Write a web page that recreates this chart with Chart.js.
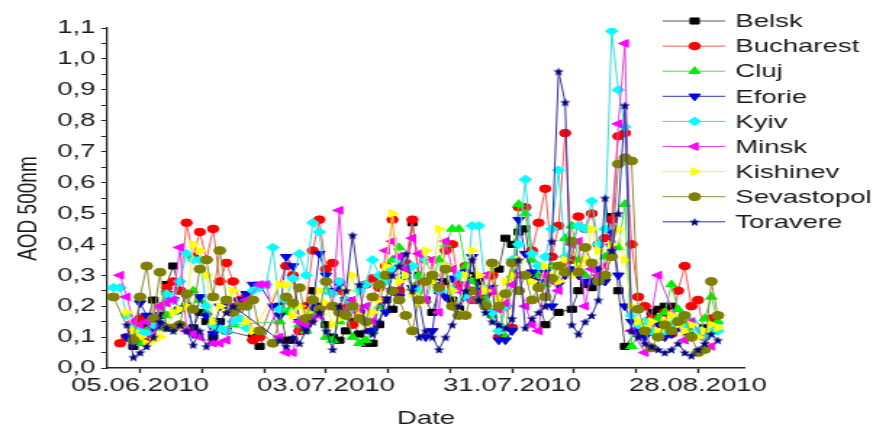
<!DOCTYPE html>
<html>
<head>
<meta charset="utf-8">
<script src="https://cdn.jsdelivr.net/npm/chart.js@4.4.0/dist/chart.umd.min.js"></script>
<style>
html, body { margin: 0; padding: 0; background: #fff; overflow: hidden; }
/* the source figure is stretched sideways, so the chart is drawn narrow and widened */
#wrap { width: 602px; height: 430px; transform: scaleX(1.4502); transform-origin: 0 0; }
</style>
</head>
<body>
<div id="wrap"><canvas id="aod"></canvas></div>
<script>
// days after 05.06.2010
const days = [-4, -3, -2, -1, 0, 1, 2, 3, 4, 5,
  6, 7, 8, 9, 10, 11, 12, 13, 14, 15,
  16, 17, 18, 19, 20, 21, 22, 23, 24, 25,
  26, 27, 28, 29, 30, 31, 32, 33, 34, 35,
  36, 37, 38, 39, 40, 41, 42, 43, 44, 45,
  46, 47, 48, 49, 50, 51, 52, 53, 54, 55,
  56, 57, 58, 59, 60, 61, 62, 63, 64, 65,
  66, 67, 68, 69, 70, 71, 72, 73, 74, 75,
  76, 77, 78, 79, 80, 81, 82, 83, 84, 85,
  86, 87, 88, 89];

const xTickDays = [0, 9.33, 18.67, 28, 37.33, 46.67, 56, 65.33, 74.67, 84];
const xTickLabels = ['05.06.2010', '', '', '03.07.2010', '', '', '31.07.2010', '', '', '28.08.2010'];

const belsk = [null, null, null, 0.07, 0.10, 0.14, 0.22, 0.17, 0.27, 0.33,
  0.25, 0.20, 0.13, 0.18, 0.15, 0.10, 0.15, 0.12, null, null,
  null, 0.10, 0.07, null, null, 0.20, 0.09, 0.09, 0.12, 0.16,
  0.25, 0.20, 0.14, 0.10, 0.09, 0.12, 0.15, 0.11, 0.08, 0.08,
  0.14, 0.22, 0.19, 0.25, 0.30, 0.47, 0.30, 0.22, 0.18, 0.25,
  0.28, 0.22, 0.19, 0.23, 0.30, 0.28, 0.20, 0.25, 0.32, 0.42,
  0.40, 0.44, 0.45, 0.30, null, 0.14, null, 0.18, null, 0.19,
  0.25, 0.27, 0.26, 0.28, 0.30, 0.49, 0.25, 0.07, null, null,
  null, 0.18, 0.19, 0.20, 0.20, null, null, null, null, 0.13,
  null, null, null, null];

const bucharest = [null, 0.08, 0.10, 0.12, 0.16, 0.10, 0.15, 0.20, 0.26, 0.28,
  0.25, 0.47, 0.36, 0.44, 0.35, 0.45, 0.28, 0.34, 0.28, 0.22,
  0.23, 0.09, 0.10, null, null, null, 0.33, 0.30, 0.12, 0.20,
  0.38, 0.48, 0.32, 0.34, 0.25, 0.20, 0.14, 0.18, 0.27, 0.29,
  0.26, 0.33, 0.48, 0.25, 0.34, 0.48, 0.27, 0.35, 0.30, 0.27,
  0.38, 0.40, 0.27, 0.33, 0.22, 0.25, 0.24, 0.30, 0.10, 0.20,
  0.13, 0.52, 0.52, 0.38, 0.47, 0.58, 0.36, 0.46, 0.76, 0.35,
  0.49, 0.45, 0.50, 0.40, 0.42, 0.48, 0.75, 0.76, 0.40, 0.23,
  0.20, 0.16, 0.14, 0.18, 0.11, 0.25, 0.33, 0.20, 0.22, 0.10,
  0.16, null, null, null];

const cluj = [null, null, null, 0.10, 0.08, 0.12, 0.15, 0.13, 0.17, 0.18,
  0.19, 0.20, 0.25, 0.22, 0.18, 0.15, 0.13, 0.12, 0.14, null,
  null, null, null, null, null, 0.15, 0.18, 0.20, 0.14, 0.12,
  0.17, 0.18, 0.10, 0.09, 0.15, 0.18, 0.10, 0.08, 0.09, 0.12,
  0.20, 0.30, 0.35, 0.39, 0.32, 0.26, 0.30, 0.22, 0.28, 0.35,
  0.40, 0.45, 0.45, 0.33, 0.28, 0.25, 0.22, 0.17, 0.20, 0.10,
  0.30, 0.53, 0.50, 0.35, 0.30, 0.27, 0.33, 0.28, 0.42, 0.46,
  0.35, 0.30, 0.28, 0.29, 0.36, 0.40, 0.39, 0.53, 0.07, 0.11,
  0.13, 0.15, 0.16, 0.18, 0.27, 0.19, 0.14, 0.12, 0.10, 0.16,
  0.23, 0.15, null, null];

const eforie = [null, null, 0.10, 0.08, 0.21, 0.17, 0.13, 0.14, 0.24, 0.22,
  0.19, 0.24, 0.11, 0.23, 0.17, 0.11, 0.20, 0.20, 0.18, 0.22,
  0.24, 0.27, 0.27, null, 0.20, 0.17, 0.36, 0.33, 0.15, 0.13,
  0.20, 0.37, 0.30, 0.25, 0.27, 0.22, 0.20, 0.18, 0.15, 0.12,
  0.22, 0.18, 0.25, 0.23, 0.30, 0.26, 0.22, 0.10, 0.12, 0.28,
  0.23, 0.29, 0.30, 0.31, 0.36, 0.25, 0.20, 0.26, 0.09, 0.09,
  0.12, 0.48, 0.37, 0.31, 0.28, 0.31, 0.20, 0.27, 0.30, 0.32,
  0.30, 0.28, 0.28, 0.32, 0.28, 0.44, 0.30, 0.20, 0.15, 0.12,
  0.10, 0.12, 0.14, 0.10, 0.11, 0.13, 0.12, 0.10, 0.11, 0.12,
  0.13, null, null, null];

const kyiv = [0.26, 0.26, 0.17, 0.14, 0.12, 0.11, 0.14, 0.20, 0.24, 0.22,
  0.28, 0.37, 0.35, 0.35, 0.20, 0.14, 0.13, 0.12, 0.15, 0.16,
  0.13, 0.25, 0.26, 0.27, 0.39, 0.19, 0.22, 0.29, 0.37, 0.30,
  0.47, 0.44, 0.25, 0.24, 0.28, 0.22, 0.19, 0.25, 0.27, 0.35,
  0.30, 0.28, 0.32, 0.35, 0.30, 0.33, 0.25, 0.35, 0.30, 0.25,
  0.33, 0.25, 0.30, 0.23, 0.46, 0.46, 0.25, 0.18, 0.12, 0.20,
  0.35, 0.40, 0.61, 0.37, 0.33, 0.36, 0.45, 0.64, 0.36, 0.40,
  0.46, 0.45, 0.54, 0.40, 0.45, 1.09, 0.90, 0.78, 0.17, 0.14,
  0.15, 0.12, 0.10, 0.12, 0.14, 0.16, 0.13, 0.15, 0.12, 0.10,
  0.12, 0.12, null, null];

const minsk = [null, 0.30, 0.23, 0.15, 0.14, 0.15, 0.10, 0.20, 0.21, 0.22,
  0.39, 0.12, 0.11, 0.10, null, 0.08, 0.08, 0.09, 0.20, 0.19,
  0.22, null, 0.27, 0.27, null, 0.10, 0.05, 0.05, 0.15, 0.14,
  0.16, 0.17, 0.20, 0.20, 0.51, 0.18, 0.22, 0.18, 0.20, 0.15,
  0.22, 0.38, 0.41, 0.36, 0.32, 0.42, 0.37, 0.22, 0.35, 0.18,
  0.41, 0.32, 0.25, 0.27, 0.22, 0.24, 0.30, 0.25, 0.19, 0.21,
  0.27, 0.30, 0.20, 0.14, 0.12, 0.30, 0.28, 0.25, 0.34, 0.40,
  0.41, 0.20, 0.32, 0.30, 0.33, 0.40, 0.79, 1.05, 0.12, null,
  0.05, null, 0.30, null, null, null, 0.09, 0.15, null, null,
  0.07, null, null, null];

const kishinev = [null, null, 0.18, 0.12, 0.10, 0.08, 0.09, 0.10, 0.13, 0.18,
  0.19, 0.20, 0.40, 0.38, 0.30, 0.15, 0.20, 0.18, 0.25, 0.20,
  0.15, 0.12, null, null, null, 0.27, 0.27, 0.17, 0.20, 0.18,
  0.22, 0.25, 0.21, 0.14, 0.16, 0.25, 0.30, 0.17, 0.14, 0.18,
  0.22, 0.33, 0.50, 0.28, 0.30, 0.24, 0.21, 0.38, 0.28, 0.45,
  0.33, 0.25, 0.18, 0.30, 0.38, 0.30, 0.25, 0.33, 0.22, 0.28,
  0.30, 0.35, 0.30, 0.28, 0.26, 0.33, 0.30, 0.28, 0.35, 0.30,
  0.33, 0.35, 0.45, 0.38, 0.30, 0.40, 0.45, 0.35, 0.20, 0.15,
  0.13, 0.15, 0.12, 0.15, 0.17, 0.14, 0.12, 0.14, 0.10, 0.12,
  0.14, 0.13, null, null];

const sevastopol = [0.23, null, null, 0.09, 0.23, 0.33, 0.16, 0.31, 0.13, 0.13,
  0.14, 0.24, 0.19, 0.32, 0.35, 0.23, 0.38, 0.22, 0.18, 0.20,
  0.20, 0.22, 0.12, null, 0.08, null, 0.23, 0.21, 0.26, 0.16,
  0.22, 0.19, 0.28, 0.20, 0.18, 0.17, 0.20, 0.16, 0.15, 0.23,
  0.27, 0.30, 0.25, 0.22, 0.17, 0.12, 0.22, 0.28, 0.30, 0.26,
  0.32, 0.20, 0.17, 0.17, 0.25, 0.22, 0.20, 0.34, 0.20, 0.24,
  0.34, 0.25, 0.30, 0.22, 0.26, 0.23, 0.29, 0.33, 0.31, 0.41,
  0.31, 0.39, 0.34, 0.28, 0.30, 0.36, 0.66, 0.68, 0.67, 0.19,
  0.12, 0.065, 0.10, 0.14, 0.12, 0.15, 0.17, 0.10, 0.05, 0.06,
  0.28, 0.17, null, null];

const toravere = [null, null, 0.14, 0.035, 0.05, 0.07, 0.10, 0.15, 0.13, 0.12,
  0.14, 0.12, 0.075, 0.12, 0.07, 0.10, 0.15, 0.18, 0.20, null,
  null, null, null, null, null, 0.09, 0.07, 0.10, 0.08, 0.12,
  0.15, 0.18, 0.12, 0.06, 0.20, 0.25, 0.43, 0.27, 0.12, 0.11,
  0.15, 0.22, 0.30, 0.33, 0.37, 0.25, 0.10, 0.12, 0.10, 0.06,
  0.10, 0.14, 0.20, 0.25, 0.35, 0.22, 0.18, 0.15, 0.14, 0.13,
  0.16, 0.35, 0.13, 0.16, 0.18, 0.20, 0.41, 0.96, 0.86, 0.14,
  0.11, 0.15, 0.17, 0.22, 0.55, 0.38, 0.50, 0.85, 0.12, 0.10,
  0.08, 0.07, 0.06, 0.05, 0.06, 0.08, 0.05, 0.04, 0.06, 0.08,
  0.11, 0.09, null, null];

const FONT = "'Liberation Sans', Arial, sans-serif";

// filled five point star for Toravere
const makeStar = (color) => {
    const c = document.createElement('canvas');
    c.width = 8;
    c.height = 9;
    const g = c.getContext('2d');
    g.fillStyle = color;
    g.beginPath();
    for (let i = 0; i < 10; i++) {
        const r = i % 2 ? 1.9 : 4.5;
        const a = -Math.PI / 2 + i * Math.PI / 5;
        g.lineTo(4 + 0.85 * r * Math.cos(a), 5 + r * Math.sin(a));
    }
    g.closePath();
    g.fill();
    return c;
};

const series = [
    { label: 'Belsk', values: belsk, marker: '#000000', line: '#555555', style: 'rect', radius: 4.3, rot: 0 },
    { label: 'Bucharest', values: bucharest, marker: '#ff0000', line: '#ff5555', style: 'circle', radius: 3.8, rot: 0 },
    { label: 'Cluj', values: cluj, marker: '#00ee00', line: '#44dd44', style: 'triangle', radius: 4.5, rot: 0 },
    { label: 'Eforie', values: eforie, marker: '#0000dd', line: '#3333bb', style: 'triangle', radius: 4.5, rot: 180 },
    { label: 'Kyiv', values: kyiv, marker: '#00ffff', line: '#33dddd', style: 'rectRot', radius: 4.3, rot: 0 },
    { label: 'Minsk', values: minsk, marker: '#ff00ff', line: '#e044e0', style: 'triangle', radius: 4.5, rot: -90 },
    { label: 'Kishinev', values: kishinev, marker: '#ffff00', line: '#eeee55', style: 'triangle', radius: 4.5, rot: 90 },
    { label: 'Sevastopol', values: sevastopol, marker: '#808000', line: '#8f8f3a', style: 'circle', radius: 4, rot: 0 },
    { label: 'Toravere', values: toravere, marker: '#000080', line: '#333399', style: makeStar('#000080'), radius: 4.5, rot: 0 }
];

const datasets = series.map((s, i) => ({
    label: s.label,
    data: days.map((d, k) => ({ x: d, y: s.values[k] })),
    borderColor: s.line,
    borderWidth: 1,
    pointStyle: s.style,
    pointRadius: s.radius,
    pointRotation: s.rot,
    pointBackgroundColor: s.marker,
    pointBorderColor: s.marker,
    pointBorderWidth: 1,
    spanGaps: true,
    tension: 0,
    order: series.length - i
}));

const sideLegend = {
    id: 'sideLegend',
    afterDraw(chart) {
        const ctx = chart.ctx;
        ctx.save();
        chart.data.datasets.forEach((ds, i) => {
            const y = 21 + i * 25.1;
            ctx.strokeStyle = ds.borderColor;
            ctx.lineWidth = 1;
            ctx.beginPath();
            ctx.moveTo(457, y);
            ctx.lineTo(500, y);
            ctx.stroke();
            ctx.fillStyle = ds.pointBackgroundColor;
            ctx.strokeStyle = ds.pointBorderColor;
            Chart.helpers.drawPoint(ctx, {
                pointStyle: ds.pointStyle,
                radius: ds.pointRadius,
                rotation: ds.pointRotation,
                borderWidth: 1
            }, 479, y);
            ctx.fillStyle = '#1a1a1a';
            ctx.font = '19px ' + FONT;
            ctx.textAlign = 'left';
            ctx.textBaseline = 'middle';
            ctx.fillText(ds.label, 507, y + 1);
        });
        ctx.restore();
    }
};

new Chart(document.getElementById('aod'), {
    type: 'line',
    data: { datasets: datasets },
    plugins: [sideLegend],
    options: {
        responsive: true,
        maintainAspectRatio: false,
        animation: false,
        events: [],
        layout: { padding: { top: 28, right: 88.3, bottom: 0, left: 0 } },
        plugins: {
            legend: { display: false },
            tooltip: { enabled: false }
        },
        scales: {
            x: {
                type: 'linear',
                min: -4.97,
                max: 91.07,
                afterBuildTicks: (scale) => {
                    scale.ticks = xTickDays.map(v => ({ value: v }));
                },
                afterFit: (scale) => { scale.height = 62; },
                grid: { drawOnChartArea: false, drawTicks: true, tickLength: 5, tickColor: '#222', tickWidth: 1.4 },
                border: { display: true, color: '#222', width: 1.5 },
                ticks: {
                    autoSkip: false,
                    maxRotation: 0,
                    minRotation: 0,
                    padding: 1,
                    color: '#1a1a1a',
                    font: { family: FONT, size: 19 },
                    callback: (v, i) => xTickLabels[i]
                },
                title: {
                    display: true,
                    text: 'Date',
                    color: '#1a1a1a',
                    font: { family: FONT, size: 19 },
                    padding: { top: 0, bottom: 0 }
                }
            },
            y: {
                min: 0,
                max: 1.1,
                afterFit: (scale) => { scale.width = 73.8; },
                grid: { drawOnChartArea: false, drawTicks: true, tickLength: 4, tickColor: '#222', tickWidth: 1 },
                border: { display: true, color: '#222', width: 1.3 },
                ticks: {
                    stepSize: 0.05,
                    autoSkip: false,
                    padding: 4,
                    color: '#1a1a1a',
                    font: { family: FONT, size: 19 },
                    callback: (v) => Math.abs(v * 10 - Math.round(v * 10)) < 1e-6 ? v.toFixed(1).replace('.', ',') : ''
                },
                title: {
                    display: true,
                    text: 'AOD 500nm    ',
                    color: '#1a1a1a',
                    font: { family: FONT, size: 19 },
                    padding: { top: 8, bottom: 0 }
                }
            }
        }
    }
});
</script>
</body>
</html>
